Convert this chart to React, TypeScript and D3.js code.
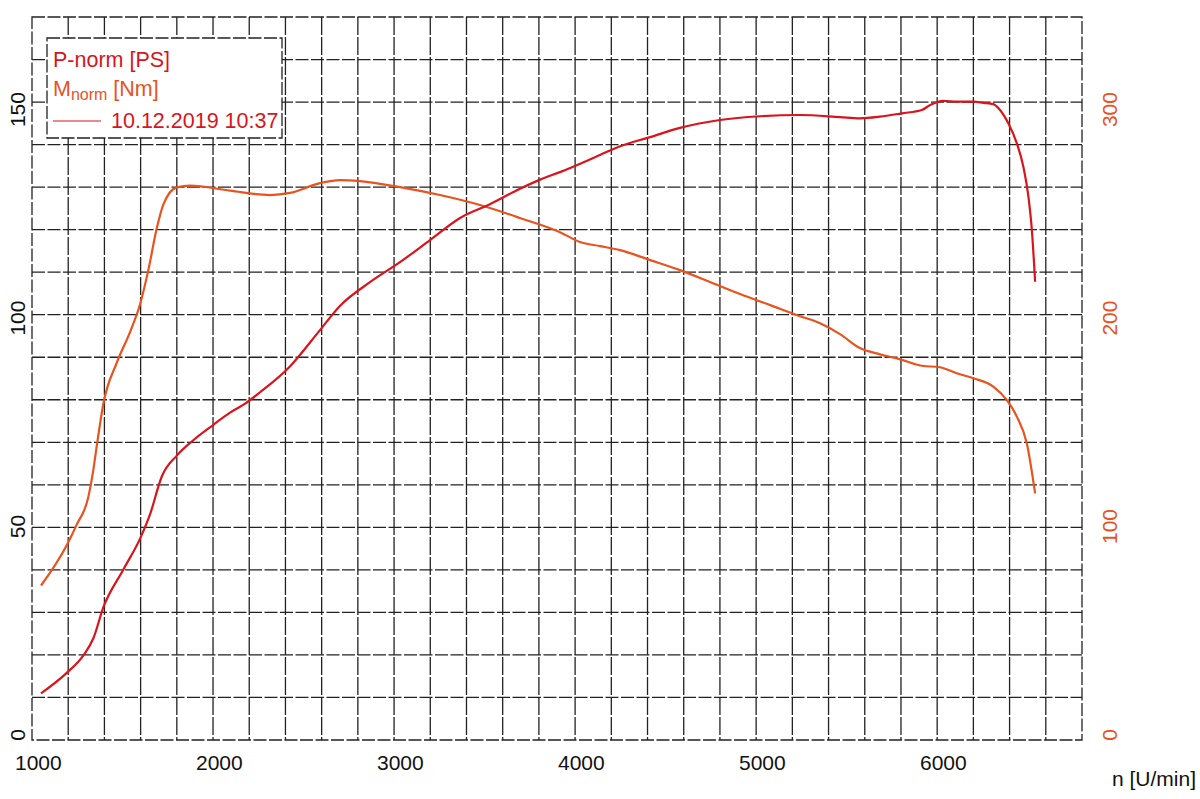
import { useEffect, useRef } from 'react';
import * as d3 from 'd3';

// Power curve P-norm [PS]
const powerRpm = [1015, 1157, 1249, 1304, 1359, 1470, 1562, 1617, 1682, 1765, 1856, 1967, 2059, 2140, 2225, 2390, 2556, 2666, 2832, 2998, 3164, 3330, 3495, 3661, 3772, 3882, 4103, 4214, 4380, 4545, 4766, 4987, 5208, 5429, 5539, 5650, 5770, 5881, 5927, 6000, 6074, 6166, 6221, 6276, 6313, 6359, 6406, 6442, 6470, 6489, 6507];
const powerPS = [10.0, 14.9, 19.1, 23.2, 30.6, 39.7, 47.1, 52.9, 62.0, 67.0, 70.7, 74.4, 77.3, 79.4, 82.2, 88.4, 97.1, 102.9, 108.6, 113.4, 118.7, 124.0, 127.3, 131.0, 133.2, 135.0, 139.1, 141.2, 143.4, 145.6, 147.5, 148.4, 148.7, 148.2, 147.9, 148.3, 149.1, 149.9, 151.1, 152.1, 151.9, 151.9, 151.6, 151.3, 149.9, 146.7, 141.9, 136.3, 129.1, 121.1, 108.7];

// Torque curve M-norm [Nm]
const torqueRpm = [1015, 1157, 1212, 1276, 1304, 1323, 1359, 1433, 1507, 1562, 1608, 1654, 1691, 1765, 1838, 2059, 2280, 2390, 2556, 2666, 2777, 2998, 3219, 3440, 3661, 3882, 3992, 4103, 4214, 4380, 4545, 4711, 4877, 5043, 5208, 5319, 5429, 5539, 5650, 5761, 5881, 5982, 6074, 6166, 6276, 6350, 6406, 6461, 6507];
const torqueNm = [71.7, 91.0, 100.9, 114.1, 127.3, 138.8, 158.8, 178.5, 193.4, 206.6, 223.1, 242.9, 254.5, 262.7, 263.5, 261.1, 259.0, 260.0, 264.7, 266.2, 265.7, 262.8, 259.0, 254.2, 248.0, 241.2, 236.5, 234.5, 232.6, 227.8, 223.0, 217.3, 211.5, 206.2, 200.9, 197.5, 192.3, 185.6, 182.6, 180.2, 177.1, 176.4, 173.5, 171.1, 167.1, 160.7, 152.7, 139.9, 115.9];

const xTicks = [1000, 2000, 3000, 4000, 5000, 6000];
const powerTicks = [0, 50, 100, 150];
const torqueTicks = [0, 100, 200, 300];

const RED = '#d9141c';
const ORANGE = '#e8531e';
const GRID = '#222';

const App = () => {
  const ref = useRef<SVGSVGElement | null>(null);

  useEffect(() => {
    if (!ref.current) return;
    const svg = d3.select(ref.current);
    svg.selectAll('*').remove();

    const width = 1200;
    const height = 799;
    const left = 32, right = 1082, top = 17, bottom = 740;
    const font = 'Liberation Sans, Arial, sans-serif';

    svg.attr('width', width).attr('height', height);

    const x = d3.scaleLinear().domain([965, 6766]).range([left, right]);
    const yP = d3.scaleLinear().domain([-1.2, 172.2]).range([bottom, top]);
    const yM = d3.scaleLinear().domain([-2.4, 344.4]).range([bottom, top]);

    // grid: 29 x 17 equal cells, independent of the ticks
    const g = svg.append('g');
    const cols = 29, rows = 17;
    d3.range(1, cols).forEach(i => {
      const px = left + (i * (right - left)) / cols;
      g.append('line')
        .attr('x1', px).attr('x2', px).attr('y1', top).attr('y2', bottom)
        .attr('stroke', GRID).attr('stroke-width', 1.3).attr('stroke-dasharray', '18,2');
    });
    d3.range(1, rows).forEach(i => {
      const py = bottom - (i * (bottom - top)) / rows;
      g.append('line')
        .attr('x1', left).attr('x2', right).attr('y1', py).attr('y2', py)
        .attr('stroke', GRID).attr('stroke-width', 1.3).attr('stroke-dasharray', '13,2.5');
    });
    g.append('rect')
      .attr('x', left).attr('y', top).attr('width', right - left).attr('height', bottom - top)
      .attr('fill', 'none').attr('stroke', GRID).attr('stroke-width', 1.3).attr('stroke-dasharray', '13,2.5');

    // curves
    const powerLine = d3.line<number>()
      .x((_, i) => x(powerRpm[i]))
      .y(d => yP(d))
      .curve(d3.curveMonotoneX);
    const torqueLine = d3.line<number>()
      .x((_, i) => x(torqueRpm[i]))
      .y(d => yM(d))
      .curve(d3.curveMonotoneX);

    svg.append('path').attr('d', torqueLine(torqueNm))
      .attr('fill', 'none').attr('stroke', ORANGE).attr('stroke-width', 2.2);
    svg.append('path').attr('d', powerLine(powerPS))
      .attr('fill', 'none').attr('stroke', RED).attr('stroke-width', 2.2);

    // x tick labels
    svg.selectAll('.xt').data(xTicks).enter().append('text')
      .attr('x', d => x(d)).attr('y', 770)
      .attr('text-anchor', 'middle').attr('font-family', font).attr('font-size', 21)
      .attr('fill', '#111').text(d => d);

    // left axis labels (rotated)
    svg.selectAll('.yl').data(powerTicks).enter().append('text')
      .attr('transform', d => `translate(25,${yP(d)}) rotate(-90)`)
      .attr('text-anchor', 'middle').attr('font-family', font).attr('font-size', 21)
      .attr('fill', '#111').text(d => d);

    // right axis labels (rotated)
    svg.selectAll('.yr').data(torqueTicks).enter().append('text')
      .attr('transform', d => `translate(1117,${yM(d)}) rotate(-90)`)
      .attr('text-anchor', 'middle').attr('font-family', font).attr('font-size', 21)
      .attr('fill', ORANGE).text(d => d);

    svg.append('text')
      .attr('x', 1196).attr('y', 786).attr('text-anchor', 'end')
      .attr('font-family', font).attr('font-size', 21).attr('fill', '#111')
      .text('n [U/min]');

    // legend
    const lg = svg.append('g');
    lg.append('rect')
      .attr('x', 47).attr('y', 38).attr('width', 235).attr('height', 100)
      .attr('fill', 'white').attr('stroke', GRID).attr('stroke-width', 1.3).attr('stroke-dasharray', '13,2.5');
    lg.append('text')
      .attr('x', 53).attr('y', 67).attr('font-family', font).attr('font-size', 21.5)
      .attr('fill', RED).text('P-norm [PS]');
    const m = lg.append('text')
      .attr('x', 53).attr('y', 96).attr('font-family', font).attr('font-size', 21.5)
      .attr('fill', ORANGE);
    m.append('tspan').text('M');
    m.append('tspan').attr('font-size', 16).attr('dy', 4).text('norm');
    m.append('tspan').attr('dy', -4).text(' [Nm]');
    lg.append('line')
      .attr('x1', 53).attr('x2', 101).attr('y1', 121).attr('y2', 121)
      .attr('stroke', RED).attr('stroke-width', 1.2);
    lg.append('text')
      .attr('x', 111).attr('y', 128).attr('font-family', font).attr('font-size', 21.5)
      .attr('fill', RED).text('10.12.2019 10:37');
  }, []);

  return (
    <div style={{ position: 'absolute', left: 0, top: 0 }}>
      <svg ref={ref}></svg>
    </div>
  );
};

export default App;
